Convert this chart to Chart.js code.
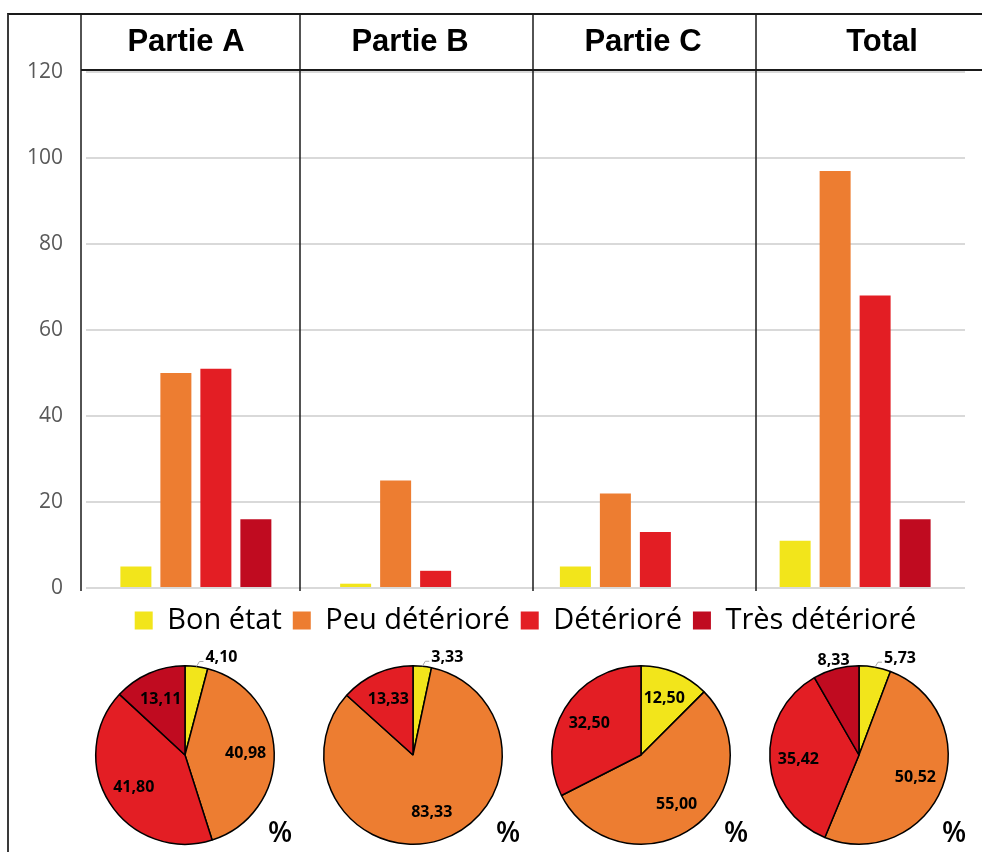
<!DOCTYPE html>
<html lang="fr">
<head>
<meta charset="utf-8">
<title>État de conservation</title>
<script src="https://cdn.jsdelivr.net/npm/chart.js@4.4.0/dist/chart.umd.min.js"></script>
<style>
    body { margin: 0; background: #fff; width: 982px; height: 852px; overflow: hidden; position: relative; }
    #frame { position: absolute; left: 7px; top: 13px; width: 990px; height: 860px; border-left: 2px solid #3a3a3a; border-top: 2px solid #1a1a1a; }
    #bar-chart { position: absolute; left: 0; top: 0; }
    .pie { position: absolute; }
</style>
</head>
<body>
<div id="frame"></div>
<canvas id="bar-chart" width="982" height="645"></canvas>
<canvas class="pie" id="pie-0" width="240" height="240"></canvas>
<canvas class="pie" id="pie-1" width="240" height="240"></canvas>
<canvas class="pie" id="pie-2" width="240" height="240"></canvas>
<canvas class="pie" id="pie-3" width="240" height="240"></canvas>
<script>
// Données
const categories = ['Partie A', 'Partie B', 'Partie C', 'Total'];
const seriesNames = ['Bon état', 'Peu détérioré', 'Détérioré', 'Très détérioré'];
const bonEtat = [5, 1, 5, 11];
const peuDeteriore = [50, 25, 22, 97];
const deteriore = [51, 4, 13, 68];
const tresDeteriore = [16, 0, 0, 16];
const yTicks = [0, 20, 40, 60, 80, 100, 120];

// Pourcentages des camemberts
const pctPartieA = [4.10, 40.98, 41.80, 13.11];
const pctPartieB = [3.33, 83.33, 13.33, 0];
const pctPartieC = [12.50, 55.00, 32.50, 0];
const pctTotal = [5.73, 50.52, 35.42, 8.33];

const colors = ['#F2E51B', '#ED7D31', '#E31E24', '#C00B20'];

// Mise en page (en-têtes et camemberts)
const headerEdges = [81, 300, 533, 756];
const headerCenters = [186, 410, 643, 882];
const pieCenterX = [185, 413, 641, 859];
const pieCenterY = 755;

const headerPlugin = {
    id: 'headers',
    afterDraw(chart) {
        const ctx = chart.ctx;
        const area = chart.chartArea;
        ctx.save();
        // ligne sous les titres
        ctx.strokeStyle = '#1a1a1a';
        ctx.lineWidth = 2;
        ctx.beginPath();
        ctx.moveTo(headerEdges[0], area.top - 2);
        ctx.lineTo(chart.width, area.top - 2);
        ctx.stroke();
        // séparateurs verticaux
        ctx.lineWidth = 1.5;
        headerEdges.forEach(x => {
            ctx.beginPath();
            ctx.moveTo(x, 14);
            ctx.lineTo(x, area.bottom + 3);
            ctx.stroke();
        });
        // titres
        ctx.fillStyle = '#000';
        ctx.font = 'bold 31px "Liberation Sans", Arial, sans-serif';
        ctx.textAlign = 'center';
        ctx.textBaseline = 'middle';
        categories.forEach((c, i) => ctx.fillText(c, headerCenters[i], 42));
        ctx.restore();
    }
};

const barSeries = [bonEtat, peuDeteriore, deteriore, tresDeteriore];

new Chart(document.getElementById('bar-chart'), {
    type: 'bar',
    data: {
        labels: categories,
        datasets: seriesNames.map((name, i) => ({
            label: name,
            data: barSeries[i],
            backgroundColor: colors[i],
            categoryPercentage: 0.728,
            barPercentage: 0.775
        }))
    },
    options: {
        responsive: false,
        animation: false,
        layout: { padding: { top: 72, right: 17, bottom: 0, left: 0 } },
        plugins: {
            legend: {
                position: 'bottom',
                fullSize: false,
                labels: {
                    boxWidth: 18,
                    boxHeight: 18,
                    padding: 11,
                    color: '#000',
                    font: { family: 'Open Sans', size: 29 }
                }
            },
            tooltip: { enabled: false }
        },
        scales: {
            x: {
                ticks: { display: false },
                grid: { display: false },
                border: { display: false },
                afterFit: scale => { scale.height = 7; }
            },
            y: {
                min: 0,
                max: 120,
                afterBuildTicks: scale => { scale.ticks = yTicks.map(v => ({ value: v })); },
                afterFit: scale => { scale.width = 86; },
                ticks: { padding: 23, color: '#595959', font: { family: 'Open Sans', size: 21 } },
                grid: { color: '#D9D9D9', lineWidth: 2, drawTicks: false },
                border: { display: false }
            }
        }
    },
    plugins: [headerPlugin]
});

const pieLabels = {
    id: 'pieLabels',
    afterDatasetsDraw(chart) {
        const ctx = chart.ctx;
        const values = chart.data.datasets[0].data;
        const meta = chart.getDatasetMeta(0);
        ctx.save();
        ctx.fillStyle = '#000';
        ctx.font = 'bold 16px "Open Sans"';
        ctx.textBaseline = 'middle';
        let cx = 0, cy = 0;
        meta.data.forEach((arc, i) => {
            const v = values[i];
            const p = arc.getProps(['x', 'y', 'startAngle', 'endAngle', 'outerRadius'], true);
            cx = p.x; cy = p.y;
            if (!v) return;
            const mid = (p.startAngle + p.endAngle) / 2;
            const r = p.outerRadius;
            const txt = v.toFixed(2).replace('.', ',');
            if (v >= 10) {
                ctx.textAlign = 'center';
                ctx.fillText(txt, p.x + Math.cos(mid) * r * 0.68, p.y + Math.sin(mid) * r * 0.68);
            } else if (v >= 7) {
                ctx.textAlign = 'center';
                ctx.fillText(txt, p.x + Math.cos(mid) * r * 1.1, p.y + Math.sin(mid) * r * 1.1);
            } else {
                const ex = p.x + Math.cos(mid) * r;
                const ey = p.y + Math.sin(mid) * r;
                ctx.strokeStyle = '#A6A6A6';
                ctx.lineWidth = 1;
                ctx.beginPath();
                ctx.moveTo(ex, ey);
                ctx.lineTo(ex + 3, ey - 5);
                ctx.lineTo(ex + 7, ey - 5);
                ctx.stroke();
                ctx.textAlign = 'left';
                ctx.fillText(txt, ex + 9, ey - 9);
            }
        });
        ctx.font = '600 28px "Open Sans"';
        ctx.textAlign = 'center';
        ctx.fillText('%', cx + 95, cy + 79);
        ctx.restore();
    }
};

[pctPartieA, pctPartieB, pctPartieC, pctTotal].forEach((values, k) => {
    const canvas = document.getElementById('pie-' + k);
    canvas.style.left = (pieCenterX[k] - 120) + 'px';
    canvas.style.top = (pieCenterY - 120) + 'px';
    new Chart(canvas, {
        type: 'pie',
        data: {
            labels: seriesNames,
            datasets: [{
                data: values,
                backgroundColor: colors,
                borderColor: '#000',
                borderWidth: 1.5
            }]
        },
        options: {
            responsive: false,
            animation: false,
            layout: { padding: 30 },
            plugins: { legend: { display: false }, tooltip: { enabled: false } }
        },
        plugins: [pieLabels]
    });
});
</script>
</body>
</html>
